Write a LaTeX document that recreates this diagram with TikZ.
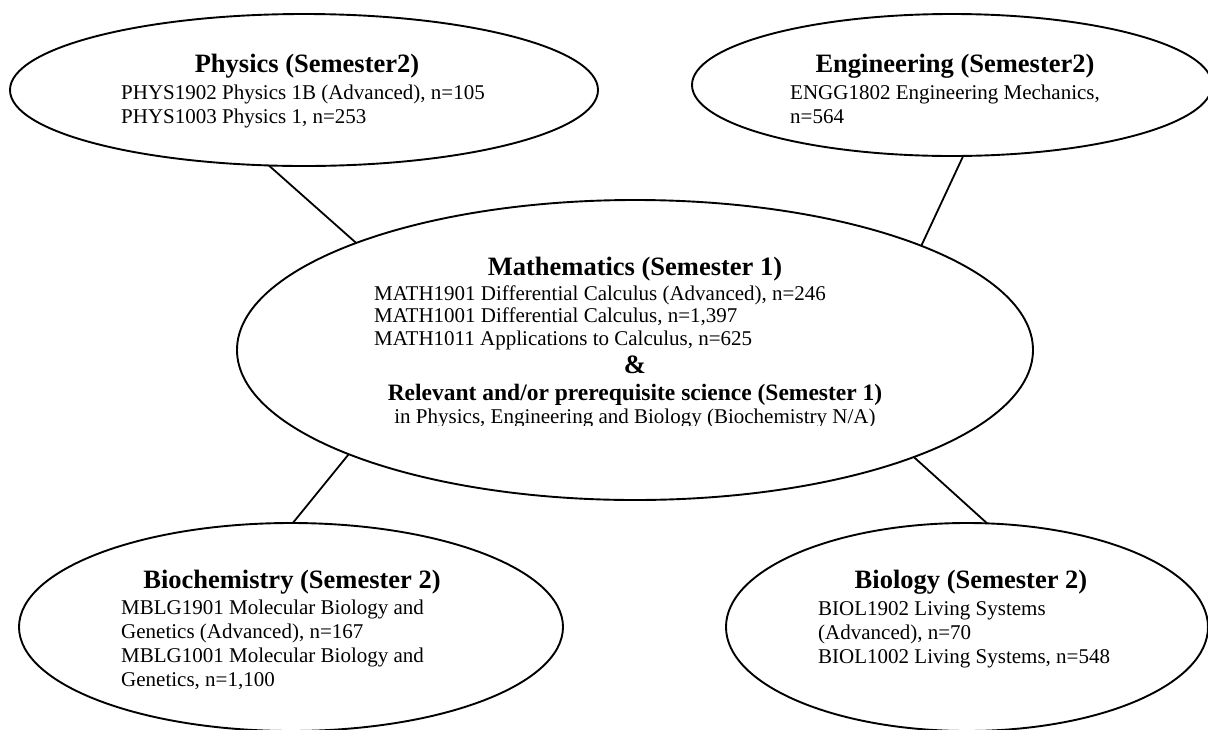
\documentclass[tikz,border=0pt]{standalone}
\usepackage{fontspec}
\setmainfont{Liberation Serif}
\usetikzlibrary{shapes.geometric}
\tikzset{
  unit/.style={draw, ellipse, line width=1.9pt, inner sep=0pt, outer sep=0pt},
  head/.style={font=\fontsize{26.5}{30}\selectfont\bfseries, inner sep=0pt, anchor=base},
  body/.style={font=\fontsize{21}{24}\selectfont, align=left, inner sep=0pt, anchor=north west},
  link/.style={line width=1.8pt}
}
\begin{document}
\begin{tikzpicture}[x=1pt,y=-1pt]
  \useasboundingbox (0,0) rectangle (1208,729);
  \clip (0,0) rectangle (1208,729);

  % the five units
  \node[unit, minimum width=588pt, minimum height=152pt] (phys) at (304,90) {};
  \node[unit, minimum width=520pt, minimum height=142pt] (eng) at (952,85) {};
  \node[unit, minimum width=796pt, minimum height=300pt] (math) at (635,350) {};
  \node[unit, minimum width=544pt, minimum height=208pt] (biochem) at (291,627) {};
  \node[unit, minimum width=482pt, minimum height=208pt] (bio) at (967,627) {};

  % links to mathematics
  \draw[link] (phys.245) -- (math.159.6);
  \draw[link] (eng.279) -- (math.20.3);
  \draw[link] (math.200.8) -- (biochem.89.4);
  \draw[link] (math.339.6) -- (bio.79.7);

  % Physics
  \node[head] (physHead) at (307,72.5) {Physics (Semester2)};
  \node[body] (physText) at (121,84.5) {PHYS1902 Physics 1B (Advanced), n=105\\
    PHYS1003 Physics 1, n=253};

  % Engineering
  \node[head] (engHead) at (955,72.5) {Engineering (Semester2)};
  \node[body] (engText) at (790,84.5) {ENGG1802 Engineering Mechanics,\\ n=564};

  % Mathematics
  \node[head] (mathHead) at (635,275) {Mathematics (Semester 1)};
  \node[body, font=\fontsize{21}{22.5}\selectfont] (mathText) at (374,285.5) {MATH1901 Differential Calculus (Advanced), n=246\\
    MATH1001 Differential Calculus, n=1,397\\
    MATH1011 Applications to Calculus, n=625};
  \node[head] (amp) at (635,373) {\&};
  \node[head, font=\fontsize{23.5}{26}\selectfont\bfseries] (relHead) at (635,400) {Relevant and/or prerequisite science (Semester 1)};
  \begin{scope}
    \clip (370,400) rectangle (900,425.5);
    \node[inner sep=0pt, anchor=base, font=\fontsize{21}{24}\selectfont] (relText) at (635,423) {in Physics, Engineering and Biology (Biochemistry N/A)};
  \end{scope}

  % Biochemistry
  \node[head] (biochemHead) at (292,588) {Biochemistry (Semester 2)};
  \node[body] (biochemText) at (121,599.5) {MBLG1901 Molecular Biology and\\
    Genetics (Advanced), n=167\\
    MBLG1001 Molecular Biology and\\
    Genetics, n=1,100};

  % Biology
  \node[head] (bioHead) at (971,588) {Biology (Semester 2)};
  \node[body] (bioText) at (818,601.5) {BIOL1902 Living Systems\\
    (Advanced), n=70\\
    BIOL1002 Living Systems, n=548};
\end{tikzpicture}
\end{document}
